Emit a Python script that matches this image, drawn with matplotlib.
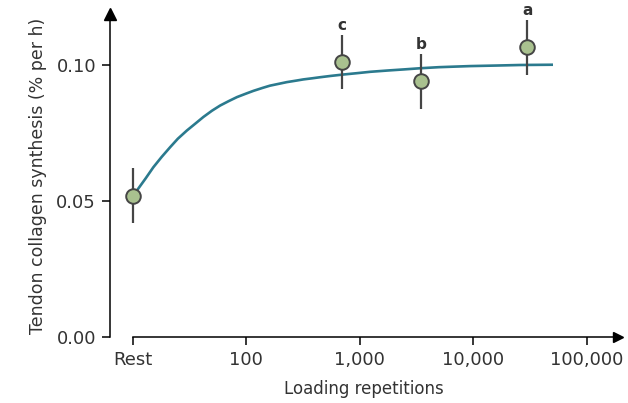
import numpy as np
import matplotlib
matplotlib.use("Agg")
import matplotlib.pyplot as plt

# measured points (mean +/- error), x in loading repetitions ("Rest" drawn at 10)
reps = [10, 700, 3500, 30000]
synth = [0.052, 0.101, 0.094, 0.1065]
synth_err = [0.010, 0.010, 0.010, 0.010]
letters = ["", "c", "b", "a"]

# fitted curve
fit_reps = [10, 11, 13, 15.2, 18, 21.4, 25, 30, 36, 42, 50, 59, 70, 83, 100,
            116, 140, 162, 200, 228, 280, 319, 380, 448, 560, 718, 950, 1240,
            1800, 2500, 3400, 5000, 9400, 16000, 25900, 50600]
fit_synth = [0.052, 0.0541, 0.0583, 0.0624, 0.0662, 0.0698, 0.0729, 0.0759,
             0.0786, 0.0809, 0.0832, 0.0851, 0.0867, 0.0882, 0.0895, 0.0905,
             0.0916, 0.0924, 0.0932, 0.0937, 0.0943, 0.0947, 0.0951, 0.0955,
             0.0960, 0.0965, 0.0970, 0.0975, 0.0980, 0.0984, 0.0988, 0.0992,
             0.0996, 0.0998, 0.1000, 0.1001]

xtick_vals = [10, 100, 1000, 10000, 100000]
xtick_labels = ["Rest", "100", "1,000", "10,000", "100,000"]
ytick_vals = [0.0, 0.05, 0.10]
ytick_labels = ["0.00", "0.05", "0.10"]

txt = "#333333"
plt.rcParams["font.family"] = "DejaVu Sans"

fig = plt.figure(figsize=(6.28, 4.03), dpi=100)
W, H = 628, 403
left, right, bottom, top = 110, 618, 337, 14
ax = fig.add_axes([left / W, 1 - bottom / H, (right - left) / W, (bottom - top) / H])

ax.set_xscale("log")
ax.set_xlim(10 ** 0.80, 10 ** 5.277)
ax.set_ylim(0, (bottom - top) / 2720)

ax.plot(fit_reps, fit_synth, color="#2b7a8e", lw=1.9, zorder=2, solid_capstyle="butt")
ax.errorbar(reps, synth, yerr=synth_err, fmt="o", color="#454545", ecolor="#454545",
            elinewidth=1.6, capsize=0, ms=10.5, mfc="#a9c18f", mec="#454545", mew=1.4,
            zorder=3)
for x, y, e, lab in zip(reps, synth, synth_err, letters):
    if lab:
        ax.annotate(lab, (x, y + e), xytext=(0, 1.5), textcoords="offset points",
                    ha="center", va="bottom", fontsize=11, fontweight="bold", color=txt)

for s in ["top", "right"]:
    ax.spines[s].set_visible(False)
ax.spines["left"].set_linewidth(1.1)
ax.spines["bottom"].set_linewidth(1.1)
ax.spines["bottom"].set_bounds(10, ax.get_xlim()[1])

# arrow heads
ax.plot(0, 1, "^k", ms=8, transform=ax.transAxes, clip_on=False)
ax.plot(1, 0, ">k", ms=7, transform=ax.transAxes, clip_on=False)

ax.set_xticks(xtick_vals)
ax.set_xticklabels(xtick_labels)
ax.minorticks_off()
ax.set_yticks(ytick_vals)
ax.set_yticklabels(ytick_labels)
ax.tick_params(axis="both", length=6, width=1.1, labelsize=13, labelcolor=txt, pad=4)

ax.set_xlabel("Loading repetitions", fontsize=12, color=txt, labelpad=8)
ax.set_ylabel("Tendon collagen synthesis (% per h)", fontsize=12.5, color=txt, labelpad=7)

fig.savefig("out.png", dpi=100)
